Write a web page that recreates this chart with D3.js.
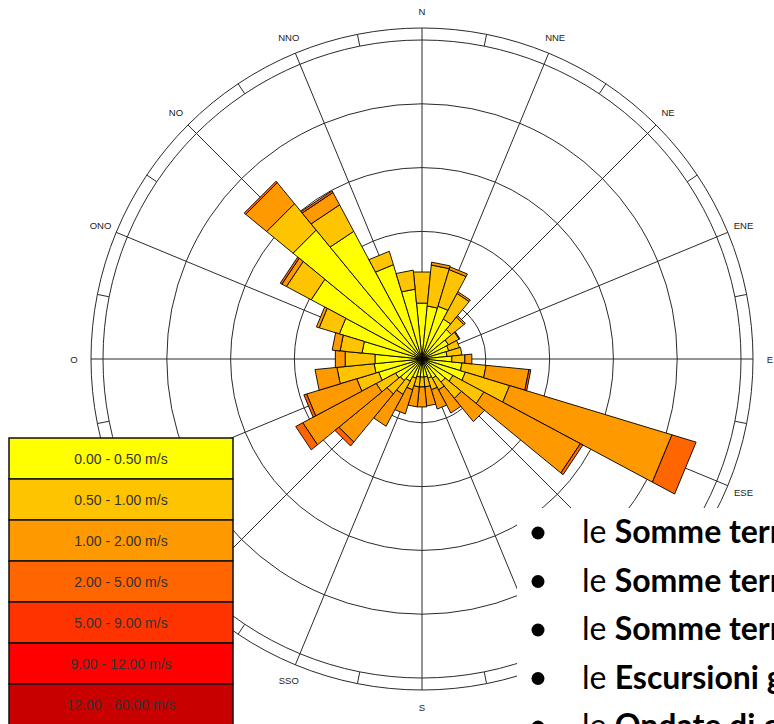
<!DOCTYPE html>
<html lang="en">
<head>
<meta charset="UTF-8">
<title>Rosa dei venti</title>
<script src="https://d3js.org/d3.v7.min.js"></script>
<style>
  body { margin: 0; background: #fff; }
  svg { display: block; }
</style>
</head>
<body>
<svg id="chart"></svg>
<script>
// 32 sectors (degrees, clockwise from north)
const sectors = ["0", "11.25", "22.5", "33.75", "45", "56.25", "67.5", "78.75",
  "90", "101.25", "112.5", "123.75", "135", "146.25", "157.5", "168.75",
  "180", "191.25", "202.5", "213.75", "225", "236.25", "247.5", "258.75",
  "270", "281.25", "292.5", "303.75", "315", "326.25", "337.5", "348.75"];

// compass labels (Italian)
const compass = ["N", "NNE", "NE", "ENE", "E", "ESE", "SE", "SSE",
  "S", "SSO", "SO", "OSO", "O", "ONO", "NO", "NNO"];

// frequency (%) per speed class, one value per sector
const speed0_05 = [1.76, 1.67, 1.73, 1.42, 1.20, 0.94, 0.88, 0.79, 0.94, 1.26, 1.42, 1.10, 0.94, 0.69, 0.63, 0.57,
  0.57, 0.57, 0.63, 0.79, 0.88, 0.94, 1.42, 1.51, 1.48, 1.89, 2.71, 3.94, 5.23, 4.54, 3.09, 2.20];
const speed05_1 = [0.98, 1.29, 1.20, 0.91, 0.50, 0.38, 0.35, 0.47, 0.41, 0.76, 1.45, 1.10, 0.66, 0.41, 0.38, 0.31,
  0.31, 0.31, 0.38, 0.47, 0.54, 0.69, 0.72, 1.17, 0.94, 0.69, 0.66, 0.88, 1.07, 0.94, 0.44, 0.60];
const speed1_2 = [0.00, 0.09, 0.09, 0.06, 0.06, 0.03, 0.00, 0.00, 0.22, 1.35, 5.32, 3.43, 0.94, 0.82, 0.63, 0.60,
  0.63, 0.63, 0.79, 1.13, 1.95, 2.61, 1.64, 0.69, 0.31, 0.25, 0.09, 0.16, 0.85, 0.44, 0.00, 0.00];
const speed2_5 = [0, 0, 0, 0, 0, 0, 0, 0, 0, 0.06, 0.79, 0.09, 0, 0, 0, 0,
  0, 0, 0, 0, 0.16, 0.25, 0.09, 0, 0, 0, 0, 0.06, 0.06, 0.06, 0, 0];

const classLabels = ["0.00 - 0.50 m/s", "0.50 - 1.00 m/s", "1.00 - 2.00 m/s", "2.00 - 5.00 m/s",
  "5.00 - 9.00 m/s", "9.00 - 12.00 m/s", "12.00 - 60.00 m/s"];
const classColors = ["#FFFF00", "#FFC400", "#FF9900", "#FF6600", "#FF3300", "#FF0000", "#C80000"];

const bulletRows = [
  ["le ", "Somme termiche attive"],
  ["le ", "Somme termiche efficaci"],
  ["le ", "Somme termiche utili"],
  ["le ", "Escursioni giornaliere"],
  ["le ", "Ondate di calore"]
];

const W = 774, H = 724;
const cx = 422, cy = 359;

// boxes drawn on top of the rose
const legendBox = {x: 9, y: 438, w: 224, rowH: 41};
const textBox = {x: 517, y: 508};

const svg = d3.select("#chart").attr("width", W).attr("height", H);

const keys = ["c0", "c1", "c2", "c3"];
const series = [speed0_05, speed05_1, speed1_2, speed2_5];
const table = sectors.map((s, i) => {
  const row = {sector: s};
  keys.forEach((k, j) => row[k] = series[j][i]);
  return row;
});
const stacked = d3.stack().keys(keys)(table);

const angle = d3.scaleBand()
  .domain(sectors)
  .range([-Math.PI / 32, 2 * Math.PI - Math.PI / 32]);

const r = d3.scaleLinear().domain([0, 10]).range([0, 319]);
const ringOuter = r(10) + 12;

const pt = (rad, a) => [cx + rad * Math.sin(a), cy - rad * Math.cos(a)];
const mid = s => angle(s) + angle.bandwidth() / 2;

// grid
const grid = svg.append("g").attr("fill", "none").attr("stroke", "#2a2a2a").attr("stroke-width", 1);
grid.selectAll("circle.ring")
  .data([2, 4, 6, 8, 10])
  .join("circle")
  .attr("cx", cx).attr("cy", cy)
  .attr("r", d => r(d));
grid.append("circle").attr("cx", cx).attr("cy", cy).attr("r", ringOuter);

const compassSectors = sectors.filter((s, i) => i % 2 === 0);
const tickSectors = sectors.filter((s, i) => i % 2 === 1);

grid.selectAll("line.spoke")
  .data(compassSectors)
  .join("line")
  .attr("x1", cx).attr("y1", cy)
  .attr("x2", d => pt(ringOuter, mid(d))[0])
  .attr("y2", d => pt(ringOuter, mid(d))[1]);

grid.selectAll("line.tick")
  .data(tickSectors)
  .join("line")
  .attr("x1", d => pt(r(10), mid(d))[0])
  .attr("y1", d => pt(r(10), mid(d))[1])
  .attr("x2", d => pt(ringOuter, mid(d))[0])
  .attr("y2", d => pt(ringOuter, mid(d))[1]);

// direction labels, skipping the ones that sit under the legend / text box
const labelR = 348;
const hidden = p => (p[0] < legendBox.x + legendBox.w + 10 && p[1] > legendBox.y - 5) ||
  (p[0] > textBox.x && p[1] > textBox.y);
const labelData = compassSectors
  .map((s, i) => ({s, name: compass[i], p: pt(labelR, mid(s))}))
  .filter(d => !hidden(d.p));

svg.append("g")
  .selectAll("text")
  .data(labelData)
  .join("text")
  .attr("x", d => d.p[0])
  .attr("y", d => d.p[1])
  .attr("text-anchor", "middle")
  .attr("dominant-baseline", "central")
  .attr("font-family", "Liberation Sans, Arial, sans-serif")
  .attr("font-size", 9.5)
  .attr("fill", "#222")
  .text(d => d.name);

// bars
const line = d3.line();
svg.append("g")
  .selectAll("g")
  .data(stacked)
  .join("g")
  .attr("fill", (d, i) => classColors[i])
  .selectAll("path")
  .data(d => d.filter(v => v[1] - v[0] > 0))
  .join("path")
  .attr("stroke", "#000")
  .attr("stroke-width", 0.9)
  .attr("stroke-linejoin", "round")
  .attr("d", d => {
    const a0 = angle(d.data.sector), a1 = a0 + angle.bandwidth();
    const r0 = r(d[0]), r1 = r(d[1]);
    return line([pt(r0, a0), pt(r1, a0), pt(r1, a1), pt(r0, a1)]) + "Z";
  });

// legend
const legend = svg.append("g").attr("transform", `translate(${legendBox.x},${legendBox.y})`);
legend.selectAll("rect")
  .data(classLabels)
  .join("rect")
  .attr("x", 0)
  .attr("y", (d, i) => i * legendBox.rowH)
  .attr("width", legendBox.w)
  .attr("height", legendBox.rowH)
  .attr("fill", (d, i) => classColors[i])
  .attr("stroke", "#111")
  .attr("stroke-width", 1.5);
legend.selectAll("text")
  .data(classLabels)
  .join("text")
  .attr("x", legendBox.w / 2)
  .attr("y", (d, i) => i * legendBox.rowH + legendBox.rowH / 2)
  .attr("text-anchor", "middle")
  .attr("dominant-baseline", "central")
  .attr("font-family", "Liberation Sans, Arial, sans-serif")
  .attr("font-size", 14)
  .attr("fill", "#333")
  .text(d => d);

// text overlay
svg.append("rect")
  .attr("x", textBox.x).attr("y", textBox.y)
  .attr("width", W - textBox.x).attr("height", H - textBox.y)
  .attr("fill", "#fff");

const rowsG = svg.append("g")
  .selectAll("g")
  .data(bulletRows)
  .join("g")
  .attr("transform", (d, i) => `translate(0,${543 + i * 48.5})`);
rowsG.append("circle")
  .attr("cx", 538).attr("cy", -10)
  .attr("r", 6.5)
  .attr("fill", "#000");
const txt = rowsG.append("text")
  .attr("x", 582)
  .attr("y", 0)
  .attr("font-family", "Lato, sans-serif")
  .attr("font-size", 32)
  .attr("fill", "#000");
txt.append("tspan").text(d => d[0]);
txt.append("tspan").attr("font-weight", "bold").text(d => d[1]);
</script>
</body>
</html>
